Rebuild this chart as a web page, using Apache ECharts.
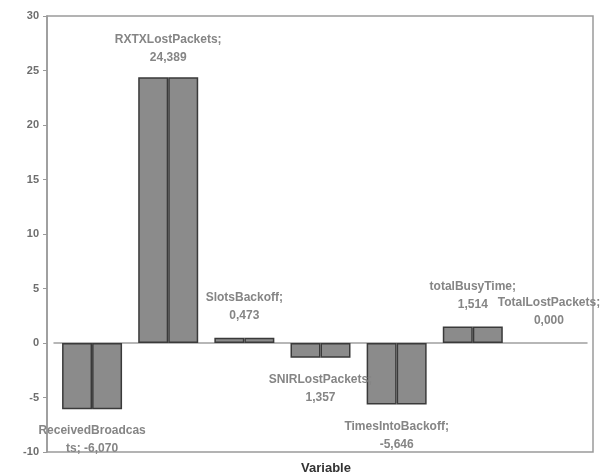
<!DOCTYPE html>
<html>
<head>
<meta charset="utf-8">
<script src="https://cdn.jsdelivr.net/npm/echarts@6/dist/echarts.min.js"></script>
<style>
  html, body { margin: 0; padding: 0; background: #fff; }
  #main { width: 611px; height: 473px; }
</style>
</head>
<body>
<div id="main"></div>
<script>
// categories and values
var categories = ['ReceivedBroadcasts', 'RXTXLostPackets', 'SlotsBackoff', 'SNIRLostPackets',
                  'TimesIntoBackoff', 'totalBusyTime', 'TotalLostPackets'];
var values = [-6.070, 24.389, 0.473, -1.357, -5.646, 1.514, 0.000];
var labelTexts = ['ReceivedBroadcas\nts; -6,070', 'RXTXLostPackets;\n24,389', 'SlotsBackoff;\n0,473',
                  'SNIRLostPackets;\n1,357', 'TimesIntoBackoff;\n-5,646', 'totalBusyTime;\n1,514',
                  'TotalLostPackets;\n0,000'];
var yTicks = { min: -10, max: 30, step: 5 };

var barFill = '#8b8b8b';
var barEdge = '#3a3a3a';

var myChart = echarts.init(document.getElementById('main'));

// left half of every bar carries the label, shifted to the bar centre
var leftData = [];
var rightData = [];
for (var i = 0; i < values.length; i++) {
    var neg = values[i] < 0;
    var edge = values[i] == 0 ? { borderColor: 'transparent' } : {};
    leftData.push({
        value: values[i],
        itemStyle: edge,
        label: {
            show: true,
            position: neg ? 'bottom' : 'top',
            distance: i == 1 ? 10 : 13,
            offset: [15, 0],
            formatter: labelTexts[i]
        }
    });
    rightData.push({ value: values[i], itemStyle: edge });
}

var option = {
    backgroundColor: '#fff',
    animation: false,
    title: {
        text: 'Variable',
        left: 321,
        top: 457,
        textAlign: 'center',
        textStyle: { fontFamily: 'Liberation Sans', fontSize: 13, fontWeight: 'bold', color: '#333' }
    },
    grid: [
        // data grid (categories span slightly inside the frame)
        { left: 54, right: 24, top: 16, bottom: 21, show: false },
        // frame
        { left: 47, right: 18, top: 16, bottom: 21, show: true, borderColor: '#9a9a9a', borderWidth: 1.5, backgroundColor: 'transparent' }
    ],
    xAxis: [
        {
            type: 'category',
            gridIndex: 0,
            data: categories,
            axisLine: { onZero: true, lineStyle: { color: '#a0a0a0', width: 1.5 } },
            axisTick: { show: false },
            axisLabel: { show: false },
            splitLine: { show: false }
        },
        { type: 'value', gridIndex: 1, show: false }
    ],
    yAxis: [
        {
            type: 'value',
            gridIndex: 0,
            min: yTicks.min,
            max: yTicks.max,
            interval: yTicks.step,
            offset: 7,
            axisLine: { show: true, lineStyle: { color: '#9a9a9a', width: 1.5 } },
            axisTick: { show: true, length: 4, lineStyle: { color: '#9a9a9a' } },
            axisLabel: { color: '#6e6e6e', fontFamily: 'Liberation Sans', fontSize: 11, fontWeight: 'bold', margin: 8 },
            splitLine: { show: false }
        },
        { type: 'value', gridIndex: 1, show: false }
    ],
    series: [
        {
            type: 'bar',
            xAxisIndex: 0,
            yAxisIndex: 0,
            barWidth: 30,
            barGap: '0%',
            data: leftData,
            itemStyle: { color: barFill, borderColor: barEdge, borderWidth: 1.5 },
            label: {
                color: '#858585',
                fontFamily: 'Liberation Sans',
                fontSize: 12,
                fontWeight: 'bold',
                lineHeight: 18,
                align: 'center'
            },
            z: 3
        },
        {
            type: 'bar',
            xAxisIndex: 0,
            yAxisIndex: 0,
            barWidth: 30,
            barGap: '0%',
            data: rightData,
            itemStyle: { color: barFill, borderColor: barEdge, borderWidth: 1.5 },
            z: 2
        }
    ]
};

myChart.setOption(option);
</script>
</body>
</html>
